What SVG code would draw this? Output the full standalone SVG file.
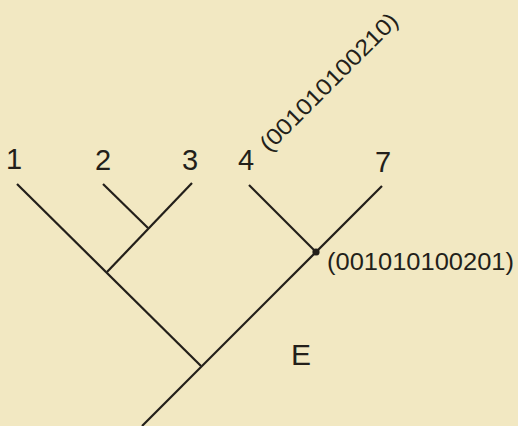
<svg xmlns="http://www.w3.org/2000/svg" width="518" height="426" viewBox="0 0 518 426">
<style>
.bg{fill:#F2E8C2}
.ln{stroke:#231F1A;stroke-width:2.2;stroke-linecap:butt;fill:none}
.lbl{font-family:"Liberation Sans",Arial,sans-serif;fill:#231F1A;text-anchor:middle}
.big{font-size:29px}
.code{font-family:"Liberation Sans",Arial,sans-serif;fill:#231F1A;font-size:23px}
</style>
<rect class="bg" x="0" y="0" width="518" height="426"/>
<g id="connectors">
<line class="ln" x1="17" y1="184" x2="201" y2="366"/>
<line class="ln" x1="103" y1="184" x2="148" y2="228"/>
<line class="ln" x1="192" y1="183" x2="107" y2="272"/>
<line class="ln" x1="142" y1="426" x2="382" y2="186"/>
<line class="ln" x1="249" y1="185" x2="316" y2="252"/>
</g>
<g id="leaf1"><text class="lbl big" x="14" y="169">1</text></g>
<g id="leaf2"><text class="lbl big" x="103" y="170">2</text></g>
<g id="leaf3"><text class="lbl big" x="190" y="170">3</text></g>
<g id="leaf4"><text class="lbl big" x="246" y="170">4</text>
<text class="code" transform="translate(269,153) rotate(-45)" x="0" y="0" textLength="185" lengthAdjust="spacingAndGlyphs">(001010100210)</text></g>
<g id="leaf7"><text class="lbl big" x="383" y="172">7</text></g>
<g id="node47"><circle cx="316" cy="252" r="3.6" fill="#231F1A"/>
<text class="code" x="327" y="270" textLength="187" lengthAdjust="spacingAndGlyphs">(001010100201)</text></g>
<g id="labelE"><text class="lbl" style="font-size:30px" x="301" y="365">E</text></g>
</svg>
